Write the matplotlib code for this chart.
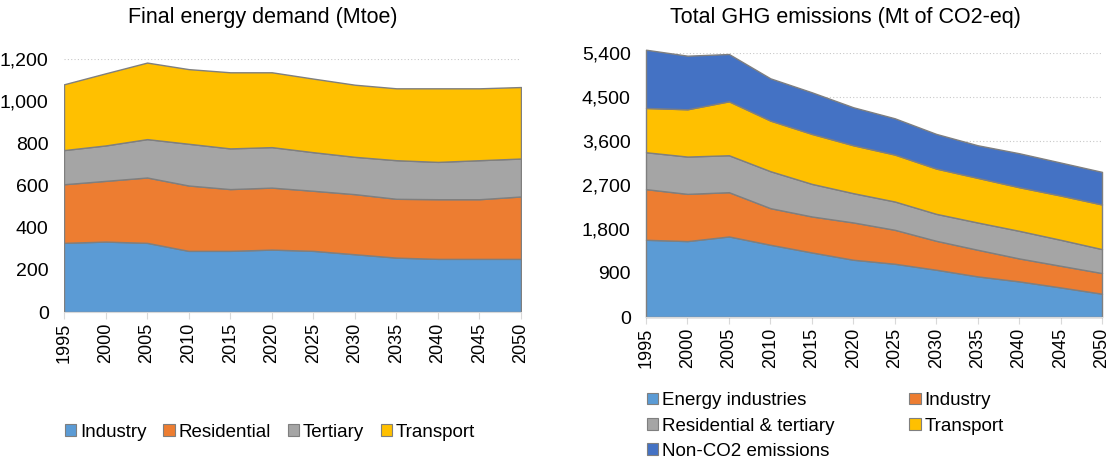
import numpy as np
import matplotlib.pyplot as plt
from matplotlib.patches import Patch

plt.rcParams['font.family'] = ['Liberation Sans', 'DejaVu Sans']

# 연도
years = [1995, 2000, 2005, 2010, 2015, 2020, 2025, 2030, 2035, 2040, 2045, 2050]

# 최종 에너지 수요 (Mtoe)
demand_labels = ['Industry', 'Residential', 'Tertiary', 'Transport']
industry = [328, 334, 328, 290, 290, 296, 290, 274, 258, 252, 252, 252]
residential = [278, 288, 310, 310, 293, 294, 285, 285, 279, 283, 283, 296]
tertiary = [162, 168, 182, 198, 193, 192, 183, 177, 183, 177, 185, 180]
transport = [312, 342, 363, 354, 361, 355, 349, 342, 341, 349, 341, 339]

# 온실가스 배출량 (Mt CO2-eq)
ghg_labels = ['Energy industries', 'Industry', 'Residential & tertiary',
              'Transport', 'Non-CO2 emissions']
ghg_energy = [1578, 1551, 1646, 1476, 1319, 1170, 1088, 966, 830, 728, 605, 476]
ghg_industry = [1034, 965, 904, 748, 735, 762, 694, 591, 544, 469, 442, 422]
ghg_restert = [754, 762, 755, 755, 666, 598, 578, 551, 557, 564, 531, 489]
ghg_transport = [905, 966, 1102, 1034, 1021, 979, 959, 925, 912, 891, 904, 912]
ghg_nonco2 = [1190, 1095, 966, 863, 850, 776, 741, 708, 666, 694, 674, 666]

c_blue = '#5B9BD5'
c_orange = '#ED7D31'
c_gray = '#A5A5A5'
c_yellow = '#FFC000'
c_dblue = '#4472C4'
edge = '#7F7F7F'

fig = plt.figure(figsize=(11.13, 4.61), dpi=100)
ax1 = fig.add_axes([64/1113, 149/461, 457/1113, 253/461])
ax2 = fig.add_axes([646/1113, 144/461, 456/1113, 264.3/461])


def style_axes(ax, yticks, ymax):
    ax.set_xlim(years[0], years[-1])
    ax.set_ylim(0, ymax)
    ax.set_yticks(yticks)
    ax.set_yticklabels([f'{v:,}' for v in yticks])
    ax.set_xticks(years)
    ax.set_xticklabels([str(y) for y in years], rotation=90)
    for s in ['top', 'right', 'left']:
        ax.spines[s].set_visible(False)
    ax.spines['bottom'].set_color('#D9D9D9')
    ax.spines['bottom'].set_zorder(5)
    ax.tick_params(axis='y', length=0, labelsize=14, pad=11)
    ax.tick_params(axis='x', direction='out', length=5, color='#D9D9D9',
                   labelsize=13, pad=3)
    ax.yaxis.grid(True, linestyle=(0, (1, 2)), color='#C8C8C8', linewidth=0.8)
    ax.set_axisbelow(True)


ax1.stackplot(years, industry, residential, tertiary, transport,
              colors=[c_blue, c_orange, c_gray, c_yellow],
              edgecolor=edge, linewidth=1.0)
style_axes(ax1, list(range(0, 1201, 200)), 1200)

ax2.stackplot(years, ghg_energy, ghg_industry, ghg_restert, ghg_transport,
              ghg_nonco2,
              colors=[c_blue, c_orange, c_gray, c_yellow, c_dblue],
              edgecolor=edge, linewidth=1.0, clip_on=False)
style_axes(ax2, list(range(0, 5401, 900)), 5400)

# 제목 (차트 영역 기준 가운데 정렬)
fig.text(263/1113, 1 - 18/461, 'Final energy demand (Mtoe)', fontsize=15.5,
         ha='center', va='center')
fig.text(845/1113, 1 - 18/461, 'Total GHG emissions (Mt of CO2-eq)',
         fontsize=15.5, ha='center', va='center')

# 범례
h1 = [Patch(facecolor=c, edgecolor=edge, linewidth=0.8, label=l)
      for c, l in zip([c_blue, c_orange, c_gray, c_yellow], demand_labels)]
fig.legend(handles=h1, loc='center left', bbox_to_anchor=(48/1113, 1 - 432/461),
           ncol=4, frameon=False, fontsize=13.5, handlelength=0.6,
           handleheight=0.6, handletextpad=0.2, columnspacing=0.9)

h2 = [Patch(facecolor=c, edgecolor=edge, linewidth=0.8, label=l)
      for c, l in zip([c_blue, c_orange, c_gray, c_yellow, c_dblue], ghg_labels)]
order = [0, 2, 4, 1, 3]
fig.legend(handles=[h2[i] for i in order], loc='center left',
           bbox_to_anchor=(630/1113, 1 - 426/461), ncol=2, frameon=False,
           fontsize=13.5, handlelength=0.6, handleheight=0.6,
           handletextpad=0.2, columnspacing=4.0, labelspacing=0.45)

fig.savefig('out.png', dpi=100)
